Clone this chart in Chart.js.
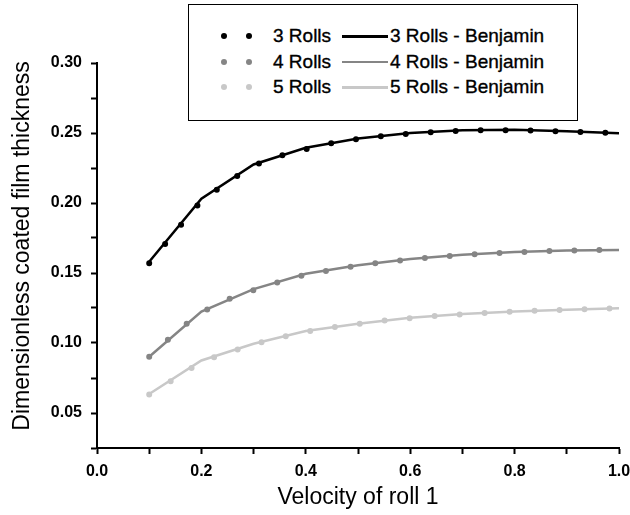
<!DOCTYPE html>
<html>
<head>
<meta charset="utf-8">
<script src="https://cdn.jsdelivr.net/npm/chart.js@4/dist/chart.umd.min.js"></script>
<style>
  body { margin: 0; background: #fff; }
  #wrap { position: relative; width: 630px; height: 515px; }
  #legend {
    position: absolute; left: 188px; top: 4px; width: 388px; height: 115px;
    border: 1.5px solid #000; background: #fff;
    font-family: "Liberation Sans", Arial, sans-serif; font-size: 19px; color: #000;
    -webkit-text-stroke: 0.35px #000;
  }
  .dot { position: absolute; width: 6px; height: 6px; border-radius: 50%; }
  .seg { position: absolute; width: 46px; height: 2.5px; }
  .txt { position: absolute; line-height: 20px; white-space: nowrap; }
</style>
</head>
<body>
<div id="wrap">
  <canvas id="chart" width="630" height="515"></canvas>
  <div id="legend"></div>
</div>
<script>
// x positions
const xBenjamin = [0.1, 0.2, 0.3, 0.4, 0.5, 0.6, 0.7, 0.8, 0.9, 1.0];
const xRolls = [0.10, 0.15, 0.20, 0.25, 0.30, 0.35, 0.40, 0.45, 0.50, 0.55,
                0.60, 0.65, 0.70, 0.75, 0.80, 0.85, 0.90, 0.95, 1.00];

// numerical results (dotted)
const rolls3 = [0.157, 0.1795, 0.201, 0.2145, 0.2265, 0.2335, 0.2385, 0.2428, 0.2457, 0.248,
                0.2495, 0.2508, 0.2515, 0.252, 0.252, 0.2515, 0.251, 0.2505, 0.2498];
const rolls4 = [0.0902, 0.107, 0.1215, 0.131, 0.1378, 0.1438, 0.1488, 0.1522, 0.1552, 0.1577,
                0.1597, 0.1613, 0.1628, 0.164, 0.1648, 0.1655, 0.166, 0.1663, 0.1665];
const rolls5 = [0.0632, 0.0748, 0.0862, 0.093, 0.099, 0.1038, 0.108, 0.1112, 0.1136, 0.116,
                0.1178, 0.1193, 0.1205, 0.1215, 0.1224, 0.1231, 0.1237, 0.1243, 0.1248];

// Benjamin model (solid)
const benj3 = [0.158, 0.203, 0.2275, 0.2395, 0.246, 0.250, 0.252, 0.2523, 0.2512, 0.2498];
const benj4 = [0.0902, 0.1224, 0.1385, 0.1495, 0.1555, 0.160, 0.163, 0.165, 0.166, 0.1665];
const benj5 = [0.0636, 0.0875, 0.0995, 0.1085, 0.1138, 0.118, 0.1207, 0.1225, 0.1238, 0.1248];

const colors = ['#000000', '#858585', '#c8c8c8'];
const names = ['3 Rolls', '4 Rolls', '5 Rolls'];

const pts = (xs, ys) => xs.map((x, i) => ({ x: x, y: ys[i] }));

function dotted(label, data, color) {
  return {
    label: label, data: data, order: 1,
    borderColor: color, borderWidth: 6, borderDash: [0, 25], borderCapStyle: 'round',
    pointRadius: 0, fill: false, tension: 0.3
  };
}
function solid(label, data, color) {
  return {
    label: label, data: data, order: 0,
    borderColor: color, borderWidth: 2.5, pointRadius: 0, fill: false, tension: 0
  };
}

const datasets = [
  solid('3 Rolls - Benjamin', pts(xBenjamin, benj3), colors[0]),
  solid('4 Rolls - Benjamin', pts(xBenjamin, benj4), colors[1]),
  solid('5 Rolls - Benjamin', pts(xBenjamin, benj5), colors[2]),
  dotted('3 Rolls', pts(xRolls, rolls3), colors[0]),
  dotted('4 Rolls', pts(xRolls, rolls4), colors[1]),
  dotted('5 Rolls', pts(xRolls, rolls5), colors[2])
];

const tickFont = { family: 'Liberation Sans, Arial, sans-serif', size: 16, weight: 'bold' };
const titleFont = { family: 'Liberation Sans, Arial, sans-serif', size: 23 };
// outward tick marks only, no grid inside the plot
const axisGrid = { drawOnChartArea: false, drawTicks: true, tickLength: 6, tickWidth: 2, tickColor: '#000', color: '#000' };

new Chart(document.getElementById('chart'), {
  type: 'line',
  data: { datasets: datasets },
  options: {
    responsive: false,
    animation: false,
    layout: { padding: { left: 0, right: 11, top: 63, bottom: 0 } },
    plugins: { legend: { display: false }, tooltip: { enabled: false } },
    scales: {
      x: {
        type: 'linear', min: 0, max: 1,
        afterFit: s => { s.height = 67; s.paddingRight = 0; s.paddingLeft = 0; },
        grid: axisGrid,
        border: { display: true, color: '#000', width: 2 },
        ticks: {
          stepSize: 0.1, padding: 8, color: '#000', font: tickFont, maxRotation: 0, autoSkip: false,
          callback: v => (Math.round(v * 10) % 2 === 0 ? v.toFixed(1) : '')
        },
        title: { display: true, text: 'Velocity of roll 1', color: '#000', font: titleFont, padding: { top: 0, bottom: 4 } }
      },
      y: {
        min: 0.025, max: 0.30,
        afterFit: s => { s.width = 97; },
        grid: axisGrid,
        border: { display: true, color: '#000', width: 2 },
        ticks: {
          stepSize: 0.025, padding: 9, color: '#000', font: tickFont, autoSkip: false,
          callback: v => (Math.round(v * 1000) % 50 === 0 ? v.toFixed(2) : '')
        },
        title: { display: true, text: '   Dimensionless coated film thickness', color: '#000', font: titleFont, padding: { top: 9, bottom: 0 } }
      }
    }
  }
});

// legend box (two columns: numerical dots, Benjamin line)
const legend = document.getElementById('legend');
names.forEach((n, i) => {
  const cy = 31 + 25.5 * i;
  [35, 60].forEach(cx => {
    const d = document.createElement('div');
    d.className = 'dot';
    d.style.background = colors[i];
    d.style.left = (cx - 3) + 'px';
    d.style.top = (cy - 3) + 'px';
    legend.appendChild(d);
  });
  const t1 = document.createElement('div');
  t1.className = 'txt';
  t1.textContent = n;
  t1.style.left = '84px';
  t1.style.top = (cy - 10) + 'px';
  legend.appendChild(t1);
  const s = document.createElement('div');
  s.className = 'seg';
  s.style.background = colors[i];
  s.style.left = '153px';
  s.style.top = (cy - 1) + 'px';
  legend.appendChild(s);
  const t2 = document.createElement('div');
  t2.className = 'txt';
  t2.textContent = n + ' - Benjamin';
  t2.style.left = '201px';
  t2.style.top = (cy - 10) + 'px';
  legend.appendChild(t2);
});
</script>
</body>
</html>
